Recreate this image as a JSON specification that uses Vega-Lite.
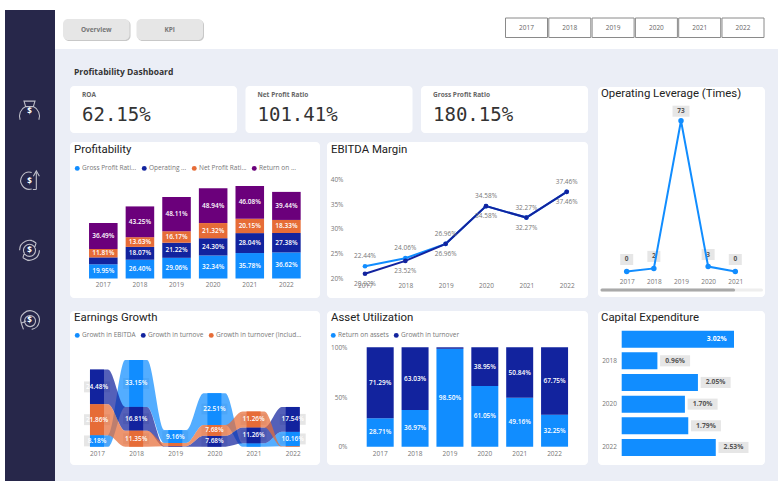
{
"$schema":"https://vega.github.io/schema/vega-lite/v6.json",
"padding":0,"background":"#ebeef6","spacing":0,
"resolve":{"scale":{"color":"independent","shape":"independent"}},
"config":{"font":"Open Sans","view":{"stroke":null},"concat":{"spacing":0},
 "axis":{"domain":false,"ticks":false,"grid":false,"title":null,"labelFont":"Open Sans","labelFontSize":6.5,"labelColor":"#777","labelAngle":0},
 "legend":{"title":null,"orient":"none","direction":"horizontal","symbolType":"circle","symbolSize":24,"labelFontSize":6.5,"labelFont":"Open Sans","labelColor":"#777","columnPadding":4,"labelOffset":1.5,"symbolStrokeWidth":0,"labelLimit":200,"symbolOpacity":1},
 "title":{"anchor":"start","frame":"group","offset":0,"font":"Roboto","fontSize":11.4,"fontWeight":400,"color":"#222","baseline":"alphabetic"}},
"hconcat":[
 {"width":5,"height":486,"view":{"fill":"#ffffff","stroke":null},"data":{"values":[]},"mark":"rect"},
 {"spacing":0,"resolve":{"scale":{"color":"independent","shape":"independent"}},"vconcat":[
  {"width":50,"height":10,"view":{"fill":"#ffffff","stroke":null},"data":{"values":[]},"mark":"rect"},
  {"width":50,"height":471,"view":{"fill":"#27274a","stroke":null},
   "data":{"values":[{"icon":"bag"},{"icon":"up"},{"icon":"cycle"},{"icon":"back"}]},
   "encoding":{"x":{"datum":0,"type":"quantitative","scale":{"domain":[0,1],"range":[24.5,50]},"axis":null},
    "y":{"field":"icon","type":"nominal","axis":null,"scale":{"type":"point","domain":["bag","up","cycle","back"],"range":[101,310],"padding":0}}},
   "layer":[
    {"mark":{"type":"point","filled":false,"stroke":"#ffffff","strokeWidth":1.1,"size":484},
     "encoding":{"shape":{"field":"icon","type":"nominal","legend":null,"scale":{"domain":["bag","up","cycle","back"],
      "range":["M-0.85,0.8 A0.95,0.95 0 0 1 -0.35,-0.4 M0.85,0.8 A0.95,0.95 0 0 0 0.35,-0.4 M-0.35,-0.4 L0.35,-0.4 M-0.35,-0.4 L-0.5,-0.9 L0.5,-0.9 L0.35,-0.4",
      "M0.2,-0.75 A0.78,0.78 0 1 0 0.2,0.75 M0.62,0.8 L0.62,-0.75 M0.35,-0.4 L0.62,-0.9 L0.9,-0.4 M0.3,0.8 L0.62,0.8",
      "M-0.9,0 A0.9,0.9 0 0 1 0.6,-0.67 M0.9,0 A0.9,0.9 0 0 1 -0.6,0.67 M0.6,-0.67 L0.1,-0.95 M0.6,-0.67 L0.45,-0.2 M-0.6,0.67 L-0.1,0.95 M-0.6,0.67 L-0.45,0.2 M0.55,0 A0.55,0.55 0 1 1 -0.55,0 A0.55,0.55 0 1 1 0.55,0",
      "M-0.75,0.3 A0.85,0.85 0 1 1 0.2,0.85 M-0.75,0.3 L-0.3,0.1 M-0.75,0.3 L-0.55,0.85 M0.55,0.1 A0.5,0.5 0 1 1 -0.45,0.1 A0.5,0.5 0 1 1 0.55,0.1"]}}}},
    {"mark":{"type":"text","text":"$","color":"#ffffff","fontWeight":"bold","fontSize":8,"font":"Open Sans","align":"center","baseline":"middle","dy":1}}
   ]},
  {"width":50,"height":5,"view":{"fill":"#ffffff","stroke":null},"data":{"values":[]},"mark":"rect"}
 ]},
 {"spacing":0,"resolve":{"scale":{"color":"independent","shape":"independent"}},"vconcat":[
  {"width":723,"height":49,"view":{"fill":"#ffffff","stroke":null},
   "resolve":{"scale":{"x":"independent","y":"independent"}},
   "layer":[
    {"data":{"values":[{"page":"Overview"},{"page":"KPI"}]},
     "encoding":{"x":{"field":"page","type":"nominal","axis":null,"scale":{"type":"band","domain":["Overview","KPI"],"range":[8,148],"paddingInner":0.095,"paddingOuter":0}},
      "y":{"datum":"b","type":"nominal","axis":null,"scale":{"type":"band","domain":["b"],"range":[19,40],"padding":0}}},
     "layer":[
      {"mark":{"type":"bar","color":"#c8c8c8","cornerRadius":5,"xOffset":1,"yOffset":1}},
      {"mark":{"type":"bar","color":"#e6e6e6","cornerRadius":5}},
      {"mark":{"type":"text","color":"#777777","fontSize":6.5,"fontWeight":"bold","font":"Open Sans"},"encoding":{"text":{"field":"page"}}}
     ]},
    {"data":{"values":[{"yr":"2017"},{"yr":"2018"},{"yr":"2019"},{"yr":"2020"},{"yr":"2021"},{"yr":"2022"}]},
     "encoding":{"x":{"field":"yr","type":"nominal","axis":null,"scale":{"type":"band","range":[450.5,709],"paddingInner":0.03,"paddingOuter":0}},
      "y":{"datum":"b","type":"nominal","axis":null,"scale":{"type":"band","domain":["b"],"range":[18,37.5],"padding":0}}},
     "layer":[
      {"mark":{"type":"bar","fill":"#ffffff","stroke":"#8a8a8a","strokeWidth":1}},
      {"mark":{"type":"text","color":"#666666","fontSize":6.5,"font":"Open Sans"},"encoding":{"text":{"field":"yr"}}}
     ]}
   ]},
  {"spacing":0,"resolve":{"scale":{"color":"independent","shape":"independent"}},"hconcat":[
   {"width":15,"height":20,"data":{"values":[]},"mark":"rect"},
   {"spacing":13,"resolve":{"scale":{"color":"independent","shape":"independent"}},"vconcat":[
    {"spacing":9,"resolve":{"scale":{"color":"independent","shape":"independent"}},"vconcat":[
     {"width":518,"height":28,"data":{"values":[]},"mark":"rect",
      "title":{"text":"Profitability Dashboard","font":"Open Sans","fontSize":8.5,"fontWeight":"bold","color":"#333","dx":4,"dy":34,"offset":0,"baseline":"alphabetic"}},
     {"spacing":8.5,"resolve":{"scale":{"color":"independent","shape":"independent"}},"hconcat":[
      {"width":167,"height":47,"view":{"fill":"#ffffff","stroke":null,"cornerRadius":4},"data":{"values":[{"metric":"ROA","value":0.6215}]},
       "encoding":{"x":{"datum":0,"type":"quantitative","scale":{"domain":[0,1],"range":[12,160]},"axis":null}},
       "layer":[
        {"mark":{"type":"text","align":"left","color":"#666","fontSize":6.5,"fontWeight":"bold","font":"Open Sans"},"encoding":{"text":{"field":"metric"},"y":{"datum":"label","type":"nominal","axis":null,"scale":{"type":"point","domain":["label","value"],"range":[9,29],"padding":0}}}},
        {"mark":{"type":"text","align":"left","color":"#333","fontSize":19,"font":"DejaVu Sans Mono"},"encoding":{"text":{"field":"value","format":".2%"},"y":{"datum":"value","type":"nominal","axis":null}}}
       ]},
      {"width":167,"height":47,"view":{"fill":"#ffffff","stroke":null,"cornerRadius":4},"data":{"values":[{"metric":"Net Profit Ratio","value":1.0141}]},
       "encoding":{"x":{"datum":0,"type":"quantitative","scale":{"domain":[0,1],"range":[12,160]},"axis":null}},
       "layer":[
        {"mark":{"type":"text","align":"left","color":"#666","fontSize":6.5,"fontWeight":"bold","font":"Open Sans"},"encoding":{"text":{"field":"metric"},"y":{"datum":"label","type":"nominal","axis":null,"scale":{"type":"point","domain":["label","value"],"range":[9,29],"padding":0}}}},
        {"mark":{"type":"text","align":"left","color":"#333","fontSize":19,"font":"DejaVu Sans Mono"},"encoding":{"text":{"field":"value","format":".2%"},"y":{"datum":"value","type":"nominal","axis":null}}}
       ]},
      {"width":167,"height":47,"view":{"fill":"#ffffff","stroke":null,"cornerRadius":4},"data":{"values":[{"metric":"Gross Profit Ratio","value":1.8015}]},
       "encoding":{"x":{"datum":0,"type":"quantitative","scale":{"domain":[0,1],"range":[12,160]},"axis":null}},
       "layer":[
        {"mark":{"type":"text","align":"left","color":"#666","fontSize":6.5,"fontWeight":"bold","font":"Open Sans"},"encoding":{"text":{"field":"metric"},"y":{"datum":"label","type":"nominal","axis":null,"scale":{"type":"point","domain":["label","value"],"range":[9,29],"padding":0}}}},
        {"mark":{"type":"text","align":"left","color":"#333","fontSize":19,"font":"DejaVu Sans Mono"},"encoding":{"text":{"field":"value","format":".2%"},"y":{"datum":"value","type":"nominal","axis":null}}}
       ]}
     ]},
     {"spacing":7,"resolve":{"scale":{"color":"independent","shape":"independent"}},"hconcat":[
      {"width":250,"height":156,"view":{"fill":"#ffffff","stroke":null,"cornerRadius":4},
       "title":{"text":"Profitability","dx":4,"dy":22,"offset":0,"baseline":"alphabetic"},
       "data":{"values":[
        {"year":"2017","series":"Gross Profit Rati...","o":1,"value":0.1995},{"year":"2017","series":"Operating ...","o":2,"value":0.0975},{"year":"2017","series":"Net Profit Rati...","o":3,"value":0.1181},{"year":"2017","series":"Return on ...","o":4,"value":0.3649},
        {"year":"2018","series":"Gross Profit Rati...","o":1,"value":0.2640},{"year":"2018","series":"Operating ...","o":2,"value":0.1807},{"year":"2018","series":"Net Profit Rati...","o":3,"value":0.1363},{"year":"2018","series":"Return on ...","o":4,"value":0.4325},
        {"year":"2019","series":"Gross Profit Rati...","o":1,"value":0.2906},{"year":"2019","series":"Operating ...","o":2,"value":0.2122},{"year":"2019","series":"Net Profit Rati...","o":3,"value":0.1617},{"year":"2019","series":"Return on ...","o":4,"value":0.4811},
        {"year":"2020","series":"Gross Profit Rati...","o":1,"value":0.3234},{"year":"2020","series":"Operating ...","o":2,"value":0.2430},{"year":"2020","series":"Net Profit Rati...","o":3,"value":0.2132},{"year":"2020","series":"Return on ...","o":4,"value":0.4894},
        {"year":"2021","series":"Gross Profit Rati...","o":1,"value":0.3578},{"year":"2021","series":"Operating ...","o":2,"value":0.2804},{"year":"2021","series":"Net Profit Rati...","o":3,"value":0.2015},{"year":"2021","series":"Return on ...","o":4,"value":0.4608},
        {"year":"2022","series":"Gross Profit Rati...","o":1,"value":0.3662},{"year":"2022","series":"Operating ...","o":2,"value":0.2738},{"year":"2022","series":"Net Profit Rati...","o":3,"value":0.1833},{"year":"2022","series":"Return on ...","o":4,"value":0.3944}
       ]},
       "encoding":{"x":{"field":"year","type":"nominal","scale":{"type":"band","range":[15,234.7],"paddingInner":0.22,"paddingOuter":0.11},"axis":{"offset":-19.5,"labelPadding":3}},
        "order":{"field":"o"}},
       "layer":[
        {"mark":{"type":"bar"},"encoding":{"y":{"field":"value","type":"quantitative","stack":"zero","axis":null,"scale":{"domain":[0,1.3005],"range":[136.5,44],"nice":false}},
          "color":{"field":"series","type":"nominal","scale":{"domain":["Gross Profit Rati...","Operating ...","Net Profit Rati...","Return on ..."],"range":["#118DFF","#12239E","#E66C37","#6B007B"]},"legend":{"legendX":4,"legendY":23}}}},
        {"mark":{"type":"text","color":"#ffffff","fontSize":6.5,"fontWeight":600,"font":"Open Sans"},"encoding":{"y":{"field":"value","type":"quantitative","stack":"zero","bandPosition":0.5,"scale":{"domain":[0,1.3005],"range":[136.5,44],"nice":false}},"detail":{"field":"series"},"text":{"field":"value","format":".2%"},
          "opacity":{"condition":{"test":"datum.value<0.1","value":0},"value":1}}}
       ]},
      {"width":261,"height":156,"view":{"fill":"#ffffff","stroke":null,"cornerRadius":4},
       "title":{"text":"EBITDA Margin","dx":4,"dy":22,"offset":0,"baseline":"alphabetic"},
       "data":{"values":[
        {"year":"2017","series":"Margin to Turnover %","value":0.2244},{"year":"2018","series":"Margin to Turnover %","value":0.2406},{"year":"2019","series":"Margin to Turnover %","value":0.2696},{"year":"2020","series":"Margin to Turnover %","value":0.3458},{"year":"2021","series":"Margin to Turnover %","value":0.3227},{"year":"2022","series":"Margin to Turnover %","value":0.3746},
        {"year":"2017","series":"Margin to Turnover (inc. Subsidy) %","value":0.2092},{"year":"2018","series":"Margin to Turnover (inc. Subsidy) %","value":0.2352},{"year":"2019","series":"Margin to Turnover (inc. Subsidy) %","value":0.2696},{"year":"2020","series":"Margin to Turnover (inc. Subsidy) %","value":0.3458},{"year":"2021","series":"Margin to Turnover (inc. Subsidy) %","value":0.3227},{"year":"2022","series":"Margin to Turnover (inc. Subsidy) %","value":0.3746}
       ]},
       "encoding":{"x":{"field":"year","type":"nominal","scale":{"type":"point","range":[38,239.7],"padding":0},"axis":{"offset":-19,"labelPadding":3}},
        "y":{"field":"value","type":"quantitative","scale":{"domain":[0.2,0.4],"range":[136.3,37.3]},"axis":{"values":[0.2,0.25,0.3,0.35,0.4],"format":".0%","offset":-20,"labelPadding":4}}},
       "layer":[
        {"mark":{"type":"line","strokeWidth":2},"encoding":{"color":{"field":"series","type":"nominal","legend":null,"scale":{"domain":["Margin to Turnover %","Margin to Turnover (inc. Subsidy) %"],"range":["#118DFF","#12239E"]}}}},
        {"mark":{"type":"point","filled":true,"size":22,"opacity":1},"encoding":{"color":{"field":"series","type":"nominal","legend":{"legendX":3,"legendY":23}}}},
        {"transform":[{"filter":"datum.series=='Margin to Turnover %'"}],"mark":{"type":"text","color":"#777","fontSize":6.5,"dy":-10,"font":"Open Sans"},"encoding":{"text":{"field":"value","format":".2%"}}},
        {"transform":[{"filter":"datum.series!='Margin to Turnover %'"}],"mark":{"type":"text","color":"#777","fontSize":6.5,"dy":10,"font":"Open Sans"},"encoding":{"text":{"field":"value","format":".2%"}}}
       ]}
     ]}
    ]},
    {"spacing":7,"resolve":{"scale":{"color":"independent","shape":"independent"}},"hconcat":[
     {"width":250,"height":154,"view":{"fill":"#ffffff","stroke":null,"cornerRadius":4},
      "title":{"text":"Earnings Growth","dx":4,"dy":21.5,"offset":0,"baseline":"alphabetic"},
      "data":{"values":[
       {"year":2017,"series":"Growth in EBITDA","value":0.0818,"lo":0,"mid":0.0409,"hi":0.0818,"edges":[2016.82,2017.28]},
       {"year":2017,"series":"Growth in turnove","value":0.2448,"lo":0.3004,"mid":0.4228,"hi":0.5452,"edges":[2016.82,2017.28]},
       {"year":2017,"series":"Growth in turnover (Includ...","value":0.2186,"lo":0.0818,"mid":0.1911,"hi":0.3004,"edges":[2016.82,2017.28]},
       {"year":2018,"series":"Growth in EBITDA","value":0.3315,"lo":0.2816,"mid":0.44735,"hi":0.6131,"edges":[2017.72,2018.28]},
       {"year":2018,"series":"Growth in turnove","value":0.1681,"lo":0.1135,"mid":0.19755,"hi":0.2816,"edges":[2017.72,2018.28]},
       {"year":2018,"series":"Growth in turnover (Includ...","value":0.1135,"lo":0,"mid":0.05675,"hi":0.1135,"edges":[2017.72,2018.28]},
       {"year":2019,"series":"Growth in EBITDA","value":0.0916,"lo":0.026,"mid":0.0718,"hi":0.1176,"edges":[2018.72,2019.28]},
       {"year":2019,"series":"Growth in turnove","value":0.004,"lo":0,"mid":0.002,"hi":0.004,"edges":[2018.72,2019.28]},
       {"year":2019,"series":"Growth in turnover (Includ...","value":0.022,"lo":0.004,"mid":0.015,"hi":0.026,"edges":[2018.72,2019.28]},
       {"year":2020,"series":"Growth in EBITDA","value":0.2251,"lo":0.1536,"mid":0.26615,"hi":0.3787,"edges":[2019.72,2020.28]},
       {"year":2020,"series":"Growth in turnove","value":0.0768,"lo":0,"mid":0.0384,"hi":0.0768,"edges":[2019.72,2020.28]},
       {"year":2020,"series":"Growth in turnover (Includ...","value":0.0768,"lo":0.0768,"mid":0.1152,"hi":0.1536,"edges":[2019.72,2020.28]},
       {"year":2021,"series":"Growth in EBITDA","value":0.024,"lo":0,"mid":0.012,"hi":0.024,"edges":[2020.72,2021.28]},
       {"year":2021,"series":"Growth in turnove","value":0.1126,"lo":0.024,"mid":0.0803,"hi":0.1366,"edges":[2020.72,2021.28]},
       {"year":2021,"series":"Growth in turnover (Includ...","value":0.1126,"lo":0.1366,"mid":0.1929,"hi":0.2492,"edges":[2020.72,2021.28]},
       {"year":2022,"series":"Growth in EBITDA","value":0.1016,"lo":0.004,"mid":0.0548,"hi":0.1056,"edges":[2021.72,2022.18]},
       {"year":2022,"series":"Growth in turnove","value":0.1754,"lo":0.1056,"mid":0.1933,"hi":0.281,"edges":[2021.72,2022.18]},
       {"year":2022,"series":"Growth in turnover (Includ...","value":0.004,"lo":0,"mid":0.002,"hi":0.004,"edges":[2021.72,2022.18]}
      ]},
      "layer":[
       {"transform":[{"filter":"datum.value>=0.05"}],"mark":{"type":"point","filled":true,"fill":"#e6e6e6","opacity":1,"strokeWidth":0,"size":676,"shape":"M-1,-0.42 H1 V0.42 H-1 Z"},
        "encoding":{"x":{"field":"year","type":"quantitative","scale":{"domain":[2017,2022],"range":[27,222.7],"nice":false,"padding":0},"axis":{"values":[2017,2018,2019,2020,2021,2022],"format":"d","offset":-18,"labelPadding":3,"labelFlush":false}},
         "y":{"field":"mid","type":"quantitative","scale":{"domain":[0,0.6131],"range":[135.7,49],"nice":false},"axis":null}}},
       {"transform":[{"flatten":["edges"],"as":["pos"]}],"mark":{"type":"area","interpolate":"monotone","opacity":0.72},
        "encoding":{"x":{"field":"pos","type":"quantitative","scale":{"domain":[2017,2022],"range":[27,222.7],"nice":false,"padding":0}},"y":{"field":"lo","type":"quantitative","scale":{"domain":[0,0.6131],"range":[135.7,49],"nice":false}},"y2":{"field":"hi"},
         "color":{"field":"series","type":"nominal","scale":{"domain":["Growth in EBITDA","Growth in turnove","Growth in turnover (Includ..."],"range":["#118DFF","#12239E","#E66C37"]},"legend":{"legendX":4,"legendY":21}}}},
       {"mark":{"type":"bar","orient":"vertical","width":14},
        "encoding":{"x":{"field":"year","type":"quantitative","scale":{"domain":[2017,2022],"range":[27,222.7],"nice":false,"padding":0}},"y":{"field":"lo","type":"quantitative","scale":{"domain":[0,0.6131],"range":[135.7,49],"nice":false}},"y2":{"field":"hi"},"color":{"field":"series","type":"nominal"}}},
       {"transform":[{"filter":"datum.value>=0.05"}],"mark":{"type":"text","color":"#ffffff","fontSize":6.5,"fontWeight":600,"font":"Open Sans"},
        "encoding":{"x":{"field":"year","type":"quantitative","scale":{"domain":[2017,2022],"range":[27,222.7],"nice":false,"padding":0}},"y":{"field":"mid","type":"quantitative","scale":{"domain":[0,0.6131],"range":[135.7,49],"nice":false}},"text":{"field":"value","format":".2%"}}}
      ]},
     {"width":261,"height":154,"view":{"fill":"#ffffff","stroke":null,"cornerRadius":4},
      "title":{"text":"Asset Utilization","dx":4,"dy":21.5,"offset":0,"baseline":"alphabetic"},
      "data":{"values":[
       {"year":"2017","series":"Return on assets","o":1,"value":0.2871},{"year":"2017","series":"Growth in turnover","o":2,"value":0.7129},
       {"year":"2018","series":"Return on assets","o":1,"value":0.3697},{"year":"2018","series":"Growth in turnover","o":2,"value":0.6303},
       {"year":"2019","series":"Return on assets","o":1,"value":0.9850},{"year":"2019","series":"Growth in turnover","o":2,"value":0.0150},
       {"year":"2020","series":"Return on assets","o":1,"value":0.6105},{"year":"2020","series":"Growth in turnover","o":2,"value":0.3895},
       {"year":"2021","series":"Return on assets","o":1,"value":0.4916},{"year":"2021","series":"Growth in turnover","o":2,"value":0.5084},
       {"year":"2022","series":"Return on assets","o":1,"value":0.3225},{"year":"2022","series":"Growth in turnover","o":2,"value":0.6775}
      ]},
      "encoding":{"x":{"field":"year","type":"nominal","scale":{"type":"band","range":[35.76,245],"paddingInner":0.226,"paddingOuter":0.113},"axis":{"offset":-18,"labelPadding":3}},"order":{"field":"o"}},
      "layer":[
       {"mark":{"type":"bar"},"encoding":{"y":{"field":"value","type":"quantitative","stack":"zero","scale":{"domain":[0,1],"range":[135.7,36.3]},"axis":{"values":[0,0.5,1],"format":".0%","offset":-22,"labelPadding":2}},
         "color":{"field":"series","type":"nominal","scale":{"domain":["Return on assets","Growth in turnover"],"range":["#118DFF","#12239E"]},"legend":{"legendX":3,"legendY":21}}}},
       {"mark":{"type":"text","color":"#ffffff","fontSize":6.5,"fontWeight":600,"font":"Open Sans"},"encoding":{"y":{"field":"value","type":"quantitative","stack":"zero","bandPosition":0.5,"scale":{"domain":[0,1],"range":[135.7,36.3]}},"detail":{"field":"series"},"text":{"field":"value","format":".2%"},
         "opacity":{"condition":{"test":"datum.value<0.1","value":0},"value":1}}}
      ]}
    ]}
   ]},
   {"width":10,"height":20,"data":{"values":[]},"mark":"rect"},
   {"spacing":14,"resolve":{"scale":{"color":"independent","shape":"independent"}},"vconcat":[
    {"width":167,"height":24,"data":{"values":[]},"mark":"rect"},
    {"width":167,"height":210,"view":{"fill":"#ffffff","stroke":null,"cornerRadius":4},
     "title":{"text":"Operating Leverage (Times)","dx":3,"dy":21,"offset":0,"baseline":"alphabetic"},
     "resolve":{"scale":{"x":"independent","y":"independent"}},
     "layer":[
      {"data":{"values":[{"year":"2017","value":0.1},{"year":"2018","value":1.6},{"year":"2019","value":73},{"year":"2020","value":2.5},{"year":"2021","value":0.1}]},
       "encoding":{"x":{"field":"year","type":"nominal","scale":{"type":"point","range":[28.7,137.3],"padding":0},"axis":{"offset":-22,"labelPadding":3}},
        "y":{"field":"value","type":"quantitative","axis":null,"scale":{"domain":[0,73],"range":[184.7,33.7]}}},
       "layer":[
        {"transform":[{"filter":"datum.value<10"}],"mark":{"type":"point","filled":true,"fill":"#e6e6e6","opacity":1,"strokeWidth":0,"size":169,"yOffset":-12,"shape":"M-1,-0.85 H1 V0.85 H-1 Z"}},
        {"transform":[{"filter":"datum.value>=10"}],"mark":{"type":"point","filled":true,"fill":"#e6e6e6","opacity":1,"strokeWidth":0,"size":289,"yOffset":-9.5,"shape":"M-1,-0.65 H1 V0.65 H-1 Z"}},
        {"transform":[{"filter":"datum.value<10"}],"mark":{"type":"text","color":"#555","fontWeight":"bold","fontSize":6.5,"dy":-12,"font":"Open Sans"},"encoding":{"text":{"field":"value","format":".0f"}}},
        {"transform":[{"filter":"datum.value>=10"}],"mark":{"type":"text","color":"#555","fontWeight":"bold","fontSize":6.5,"dy":-9.5,"font":"Open Sans"},"encoding":{"text":{"field":"value","format":".0f"}}},
        {"mark":{"type":"line","color":"#118DFF","strokeWidth":2}},
        {"mark":{"type":"point","filled":true,"color":"#118DFF","size":30,"opacity":1}}
       ]},
      {"data":{"values":[{"part":"track","start":0,"end":1},{"part":"thumb","start":0,"end":0.825}]},
       "mark":{"type":"rule","strokeWidth":3,"strokeCap":"round"},
       "encoding":{"x":{"field":"start","type":"quantitative","axis":null,"scale":{"domain":[0,1],"range":[4,163.5]}},"x2":{"field":"end"},
        "y":{"datum":0,"type":"quantitative","axis":null,"scale":{"domain":[0,1],"range":[203,100]}},
        "color":{"field":"part","type":"nominal","legend":null,"scale":{"domain":["track","thumb"],"range":["#eeeeee","#a9a9a9"]}}}}
     ]},
    {"width":167,"height":154,"view":{"fill":"#ffffff","stroke":null,"cornerRadius":4},
     "title":{"text":"Capital Expenditure","dx":3,"dy":21.5,"offset":0,"baseline":"alphabetic"},
     "data":{"values":[{"year":"2017","value":0.0302},{"year":"2018","value":0.0096},{"year":"2019","value":0.0205},{"year":"2020","value":0.0170},{"year":"2021","value":0.0179},{"year":"2022","value":0.0253}]},
     "encoding":{"x":{"field":"value","type":"quantitative","axis":null,"scale":{"domain":[0,0.0302],"range":[23.7,136],"nice":false}},
      "y":{"field":"year","type":"nominal","scale":{"type":"band","range":[17.3,147.3],"paddingInner":0.215,"paddingOuter":0.108},"axis":{"values":["2018","2020","2022"],"offset":-23,"labelPadding":4.5}}},
     "layer":[
      {"mark":{"type":"bar","color":"#118DFF"}},
      {"transform":[{"filter":"datum.value<0.03"}],"mark":{"type":"point","filled":true,"fill":"#e6e6e6","opacity":1,"strokeWidth":0,"size":900,"xOffset":17.7,"shape":"M-1,-0.37 H1 V0.37 H-1 Z"}},
      {"transform":[{"filter":"datum.value<0.03"}],"mark":{"type":"text","color":"#555","fontWeight":"bold","fontSize":6.8,"dx":17.7,"font":"Open Sans"},"encoding":{"text":{"field":"value","format":".2%"}}},
      {"transform":[{"filter":"datum.value>=0.03"}],"mark":{"type":"text","color":"#ffffff","fontWeight":"bold","fontSize":6.8,"dx":-17.3,"font":"Open Sans"},"encoding":{"text":{"field":"value","format":".2%"}}}
     ]}
   ]}
  ]},
  {"width":723,"height":16,"data":{"values":[]},"mark":"rect"},
  {"width":723,"height":5,"view":{"fill":"#ffffff","stroke":null},"data":{"values":[]},"mark":"rect"}
 ]},
 {"width":4,"height":486,"view":{"fill":"#ffffff","stroke":null},"data":{"values":[]},"mark":"rect"}
]
}
